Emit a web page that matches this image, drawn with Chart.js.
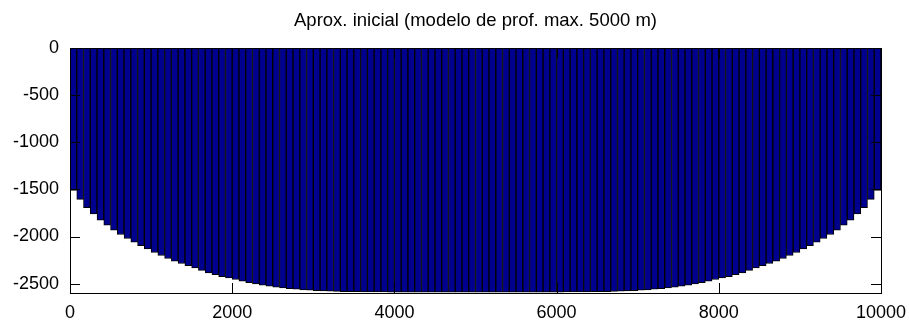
<!DOCTYPE html>
<html>
<head>
<meta charset="utf-8">
<script src="https://cdn.jsdelivr.net/npm/chart.js@4.4.1/dist/chart.umd.min.js"></script>
<style>
  body { margin: 0; background: #fff; }
  canvas { display: block; }
</style>
</head>
<body>
<canvas id="modelo" width="909" height="322"></canvas>
<script>
// modelo de 120 prismas sobre 10 km, profundidad de la base (m)
const cellCount = 120;
const modelWidth = 10000;
const depths = [
  -1511, -1606, -1695, -1759, -1826, -1879, -1933, -1979, -2021, -2060,
  -2096, -2131, -2170, -2202, -2234, -2263, -2287, -2309, -2333, -2359,
  -2387, -2404, -2426, -2440, -2457, -2475, -2490, -2503, -2516, -2528,
  -2538, -2546, -2553, -2560, -2566, -2571, -2575, -2578, -2581, -2583,
  -2585, -2586, -2587, -2588, -2588, -2589, -2589, -2590, -2590, -2590,
  -2591, -2591, -2591, -2591, -2592, -2592, -2592, -2592, -2592, -2592,
  -2592, -2592, -2592, -2592, -2592, -2592, -2591, -2591, -2591, -2591,
  -2590, -2590, -2590, -2589, -2589, -2588, -2588, -2587, -2586, -2585,
  -2583, -2581, -2578, -2575, -2571, -2566, -2560, -2553, -2546, -2538,
  -2528, -2516, -2503, -2490, -2475, -2457, -2440, -2426, -2404, -2387,
  -2359, -2333, -2309, -2287, -2263, -2234, -2202, -2170, -2131, -2096,
  -2060, -2021, -1979, -1933, -1879, -1826, -1759, -1695, -1606, -1511
];
const xTicks = [0, 2000, 4000, 6000, 8000, 10000];
const yTicks = [0, -500, -1000, -1500, -2000, -2500];

const cellSize = modelWidth / cellCount;
const points = depths.map((d, i) => ({ x: (i + 0.5) * cellSize, y: d }));

const FONT = "'Liberation Sans', Arial, sans-serif";

// marco de ejes con marcas hacia dentro (estilo matlab)
const framePlugin = {
  id: 'frame',
  afterDraw(chart) {
    const { ctx, chartArea: { left, right, top, bottom }, scales: { x, y } } = chart;
    const tick = 10;
    ctx.save();
    ctx.strokeStyle = '#000';
    ctx.lineWidth = 1;
    ctx.beginPath();
    xTicks.forEach(v => {
      const px = Math.round(x.getPixelForValue(v)) + 0.5;
      ctx.moveTo(px, bottom); ctx.lineTo(px, bottom - tick);
      ctx.moveTo(px, top); ctx.lineTo(px, top + tick);
    });
    yTicks.forEach(v => {
      const py = Math.round(y.getPixelForValue(v)) + 0.5;
      ctx.moveTo(left, py); ctx.lineTo(left + tick, py);
      ctx.moveTo(right, py); ctx.lineTo(right - tick, py);
    });
    ctx.stroke();
    ctx.strokeRect(Math.round(left) + 0.5, Math.round(top) + 0.5,
      Math.round(right - left), Math.round(bottom - top));
    ctx.restore();
  }
};

new Chart(document.getElementById('modelo').getContext('2d'), {
  type: 'bar',
  data: {
    datasets: [{
      data: points,
      backgroundColor: '#00008f',
      borderColor: '#000',
      borderWidth: 1,
      borderSkipped: false,
      barPercentage: 1,
      categoryPercentage: 1
    }]
  },
  options: {
    responsive: false,
    animation: false,
    layout: { padding: { left: 0, right: 28, top: 0, bottom: 0 } },
    plugins: {
      legend: { display: false },
      tooltip: { enabled: false },
      title: {
        display: true,
        fullSize: false,
        text: 'Aprox. inicial (modelo de prof. max. 5000 m)',
        color: '#000',
        font: { family: FONT, size: 18.5, weight: 'normal' },
        padding: { top: 10, bottom: 16 }
      }
    },
    scales: {
      x: {
        type: 'linear',
        offset: false,
        min: 0,
        max: modelWidth,
        grid: { display: false, drawTicks: false },
        border: { display: false },
        afterBuildTicks: axis => { axis.ticks = xTicks.map(v => ({ value: v })); },
        afterFit: axis => {
          axis.height = 29;
          axis.paddingLeft = 0;
          axis.paddingRight = 0;
        },
        ticks: {
          color: '#000',
          font: { family: FONT, size: 18 },
          padding: 9,
          maxRotation: 0,
          callback: v => String(v)
        }
      },
      y: {
        min: -2600,
        max: 0,
        grid: { display: false, drawTicks: false },
        border: { display: false },
        afterBuildTicks: axis => { axis.ticks = yTicks.map(v => ({ value: v })); },
        afterFit: axis => {
          axis.width = 70;
          axis.paddingTop = 0;
          axis.paddingBottom = 0;
        },
        ticks: {
          color: '#000',
          font: { family: FONT, size: 18 },
          padding: 11,
          callback: v => String(v)
        }
      }
    }
  },
  plugins: [framePlugin]
});
</script>
</body>
</html>
